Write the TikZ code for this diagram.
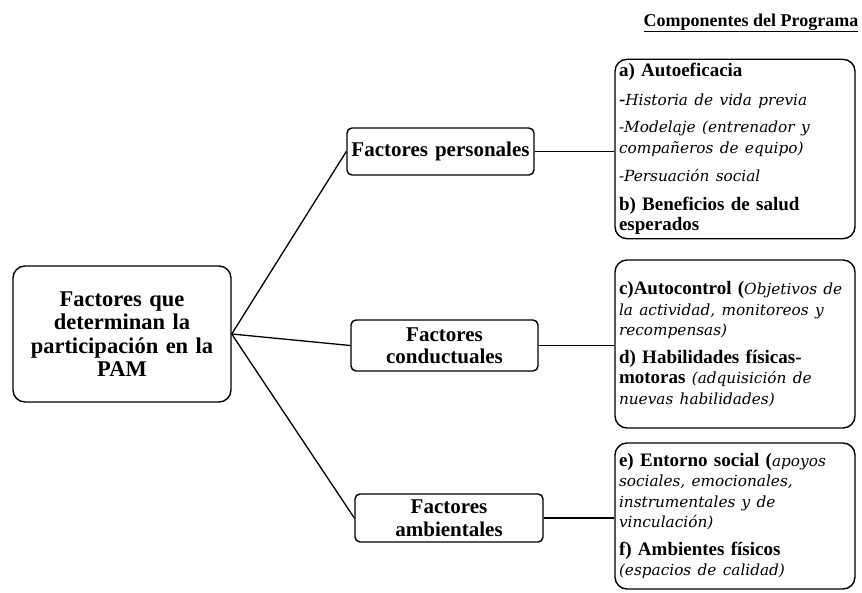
\documentclass[tikz,border=0pt]{standalone}
\usepackage{fontspec}
\setmainfont{Liberation Serif}
\newfontfamily\compfont{DejaVu Serif}
\newcommand{\obs}[1]{{\compfont\itshape\fontsize{15.3}{20.5}\selectfont #1}}
\usetikzlibrary{positioning}

\tikzset{
	factbox/.style={draw, line width=1.4pt, rounded corners=5pt, align=center,
		font=\bfseries\fontsize{21}{22.5}\selectfont, inner sep=3pt},
	mainbox/.style={draw, line width=1.4pt, rounded corners=12pt, align=center,
		font=\bfseries\fontsize{22.5}{23.5}\selectfont, inner sep=4pt},
	compbox/.style={draw, line width=1.4pt, rounded corners=12pt, align=left,
		font=\fontsize{19}{20.5}\selectfont, inner sep=4pt, text width=232pt},
	link/.style={line width=1.3pt}
}

\begin{document}
\begin{tikzpicture}[x=1pt,y=-1pt]
		\useasboundingbox (0,0) rectangle (862,592);
		
		\node[font=\bfseries\fontsize{18}{20}\selectfont] (title) at (751,23)
		{\underline{Componentes del Programa}};
		
		\node[mainbox, text width=210pt, minimum height=136pt] (pam) at (122,334)
		{Factores que\\ determinan la\\ participación en la\\ PAM};
		
		\node[factbox, text width=181pt, minimum height=47pt] (pers) at (440.5,151.5)
		{Factores personales};
		\node[factbox, text width=181pt, minimum height=51pt] (cond) at (444.5,345.5)
		{Factores\\ conductuales};
		\node[factbox, text width=182pt, minimum height=48pt] (amb) at (449,518)
		{Factores\\ ambientales};
		
		\node[compbox, minimum height=178pt] (compa) at (735,149)
		{\textbf{a) Autoeficacia}\\[8pt]
		\textbf{-}\obs{Historia de vida previa}\\[7pt]
		\obs{-Modelaje (entrenador y}\\
		\obs{compañeros de equipo)}\\[8pt]
		\obs{-Persuación social}\\[8pt]
		\textbf{b) Beneficios de salud}\\
		\textbf{esperados}};
		
		\node[compbox, minimum height=168pt] (compc) at (735,344)
		{\textbf{c)Autocontrol (}\obs{Objetivos de}\\
		\obs{la actividad, monitoreos y}\\
		\obs{recompensas)}\\[7pt]
		\textbf{d) Habilidades físicas-}\\
		\textbf{motoras} \obs{(adquisición de}\\
		\obs{nuevas habilidades)}};
		
		\node[compbox, minimum height=146pt] (compe) at (735,516)
		{\textbf{e) Entorno social (}\obs{apoyos}\\
		\obs{sociales, emocionales,}\\
		\obs{instrumentales y de}\\
		\obs{vinculación)}\\[7pt]
		\textbf{f) Ambientes físicos}\\
		\obs{(espacios de calidad)}};
		
		\draw[link] (pam.east) -- (pers.west);
		\draw[link] (pam.east) -- (cond.west);
		\draw[link] (pam.east) -- (amb.west);
		\draw[link] (pers.east) -- (pers.east -| compa.west);
		\draw[link] (cond.east) -- (cond.east -| compc.west);
		\draw[link] (amb.east) -- (amb.east -| compe.west);
\end{tikzpicture}
\end{document}
